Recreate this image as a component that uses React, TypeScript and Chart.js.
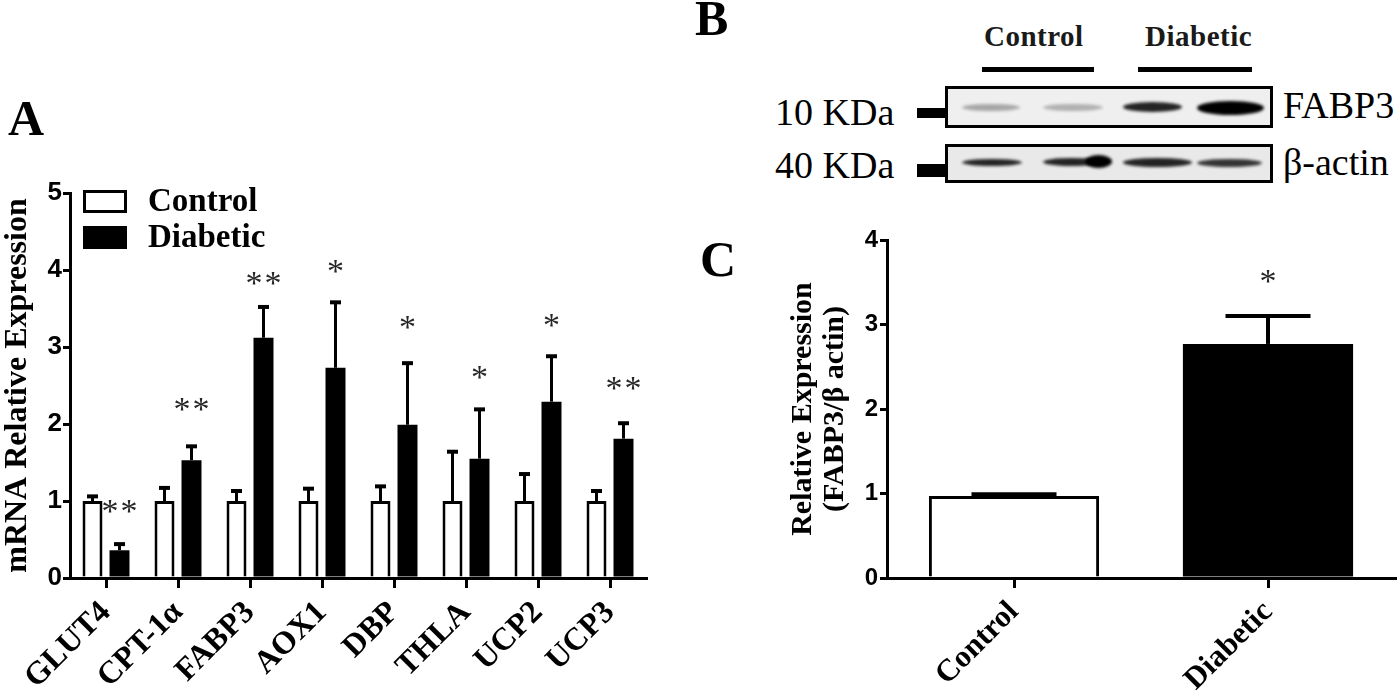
import React, { useEffect, useRef } from 'react';
import { Chart, registerables } from 'chart.js';

Chart.register(...registerables);

// ---------- Panel A data ----------
const genes = ['GLUT4', 'CPT-1α', 'FABP3', 'AOX1', 'DBP', 'THLA', 'UCP2', 'UCP3'];
const controlMean = [1, 1, 1, 1, 1, 1, 1, 1];
const controlErr = [0.06, 0.17, 0.13, 0.16, 0.19, 0.64, 0.35, 0.13];
const diabeticMean = [0.36, 1.53, 3.12, 2.73, 1.99, 1.55, 2.29, 1.81];
const diabeticErr = [0.08, 0.18, 0.4, 0.85, 0.8, 0.64, 0.59, 0.2];
const geneStars = ['**', '**', '**', '*', '*', '*', '*', '**'];
const geneStarLevel = [0.95, 2.27, 3.91, 4.06, 3.34, 2.69, 3.36, 2.55];
const yMaxA = 5;

// ---------- Panel C data ----------
const groupsC = ['Control', 'Diabetic'];
const proteinMean = [0.97, 2.77];
const proteinErr = [0.02, 0.33];
const proteinStars = ['', '*'];
const proteinStarLevel = [0, 3.58];
const yMaxC = 4;

// ---------- Panel B labels ----------
const blotGroups = ['Control', 'Diabetic'];
const blotRows = ['FABP3', 'β-actin'];
const blotMarkers = ['10 KDa', '40 KDa'];

const SERIF = '"Liberation Serif", "Times New Roman", serif';
const SANS = '"Liberation Sans", Arial, sans-serif';

const errorBarPlugin = {
  id: 'errorBars',
  afterDatasetsDraw(chart: any, _args: any, opts: any) {
    if (!opts || !opts.errors) return;
    const ctx = chart.ctx;
    const y = chart.scales.y;
    ctx.save();
    ctx.strokeStyle = '#000';
    ctx.lineCap = 'butt';
    chart.data.datasets.forEach((ds: any, d: number) => {
      const meta = chart.getDatasetMeta(d);
      const errs = opts.errors[d];
      meta.data.forEach((bar: any, i: number) => {
        const v = ds.data[i];
        const e = errs[i];
        const yb = y.getPixelForValue(v);
        const yt = y.getPixelForValue(v + e);
        ctx.lineWidth = opts.lineWidth || 3;
        ctx.beginPath();
        ctx.moveTo(bar.x, yb);
        ctx.lineTo(bar.x, yt);
        ctx.stroke();
        ctx.lineWidth = opts.capThickness || 3;
        ctx.beginPath();
        ctx.moveTo(bar.x - opts.capWidth / 2, yt);
        ctx.lineTo(bar.x + opts.capWidth / 2, yt);
        ctx.stroke();
      });
    });
    ctx.restore();
  },
};

const starPlugin = {
  id: 'stars',
  afterDatasetsDraw(chart: any, _args: any, opts: any) {
    if (!opts || !opts.marks) return;
    const ctx = chart.ctx;
    const y = chart.scales.y;
    const meta = chart.getDatasetMeta(opts.datasetIndex || 0);
    ctx.save();
    ctx.fillStyle = opts.color || '#333';
    ctx.font = opts.font;
    ctx.textAlign = 'center';
    ctx.textBaseline = 'alphabetic';
    meta.data.forEach((bar: any, i: number) => {
      const m: string = opts.marks[i];
      if (!m) return;
      const cy = y.getPixelForValue(opts.levels[i]) + opts.baselineShift;
      const n = m.length;
      for (let k = 0; k < n; k++) {
        const dx = (k - (n - 1) / 2) * opts.spacing;
        ctx.fillText('*', bar.x + dx, cy);
      }
    });
    ctx.restore();
  },
};

const legendPlugin = {
  id: 'boxLegend',
  afterDraw(chart: any, _args: any, opts: any) {
    if (!opts || !opts.display) return;
    const ctx = chart.ctx;
    const area = chart.chartArea;
    ctx.save();
    chart.data.datasets.forEach((ds: any, d: number) => {
      const bx = area.left + opts.dx;
      const by = area.top + opts.dy + d * opts.rowGap;
      ctx.fillStyle = ds.backgroundColor;
      ctx.fillRect(bx, by, opts.boxW, opts.boxH);
      ctx.strokeStyle = '#000';
      ctx.lineWidth = 3;
      ctx.strokeRect(bx + 1.5, by + 1.5, opts.boxW - 3, opts.boxH - 3);
      ctx.fillStyle = '#000';
      ctx.font = opts.font;
      ctx.textAlign = 'left';
      ctx.textBaseline = 'middle';
      ctx.fillText(ds.label, bx + opts.boxW + 21, by + opts.boxH / 2 + 1);
    });
    ctx.restore();
  },
};

function axisCommon(extra: any) {
  return {
    grid: {
      display: true,
      drawOnChartArea: false,
      drawTicks: true,
      color: '#000',
      lineWidth: 3,
      ...extra.grid,
    },
    border: { display: true, color: '#000', width: 3 },
  };
}

function PanelA() {
  const ref = useRef<HTMLCanvasElement>(null);
  useEffect(() => {
    const chart = new Chart(ref.current as HTMLCanvasElement, {
      type: 'bar',
      data: {
        labels: genes,
        datasets: [
          {
            label: 'Control',
            data: controlMean,
            backgroundColor: '#fff',
            borderColor: '#000',
            borderWidth: 3,
            borderSkipped: 'start',
            categoryPercentage: 0.75,
            barPercentage: 0.74,
          },
          {
            label: 'Diabetic',
            data: diabeticMean,
            backgroundColor: '#000',
            borderColor: '#000',
            borderWidth: 0,
            categoryPercentage: 0.75,
            barPercentage: 0.74,
          },
        ],
      },
      options: {
        animation: false,
        responsive: false,
        maintainAspectRatio: false,
        events: [],
        layout: { padding: { top: 193, right: 14, bottom: 0, left: 0 } },
        plugins: {
          legend: { display: false },
          tooltip: { enabled: false },
          errorBars: { errors: [controlErr, diabeticErr], capWidth: 11, lineWidth: 3, capThickness: 4 },
          stars: {
            marks: geneStars,
            levels: geneStarLevel,
            datasetIndex: 1,
            font: `34px ${SERIF}`,
            spacing: 19,
            baselineShift: 17,
            color: '#262626',
          },
          boxLegend: {
            display: true,
            dx: 13,
            dy: -3,
            rowGap: 36,
            boxW: 44,
            boxH: 23,
            font: `bold 33px ${SERIF}`,
          },
        } as any,
        scales: {
          x: {
            ...axisCommon({ grid: { offset: false, tickLength: 10 } }),
            ticks: {
              color: '#000',
              font: { family: SERIF, size: 32, weight: 'bold' },
              minRotation: 45,
              maxRotation: 45,
              autoSkip: false,
              padding: 6,
            },
            afterFit: (s: any) => {
              s.height = 117;
              s.paddingLeft = 0;
              s.paddingRight = 0;
            },
          },
          y: {
            ...axisCommon({ grid: { tickLength: 7 } }),
            min: 0,
            max: yMaxA,
            ticks: {
              stepSize: 1,
              color: '#000',
              font: { family: SANS, size: 26, weight: 'bold' },
              padding: 1,
            },
            title: {
              display: true,
              text: 'mRNA Relative Expression',
              color: '#000',
              font: { family: SERIF, size: 32, weight: 'bold', lineHeight: 1.1 },
              padding: { top: 0, bottom: 0 },
            },
            afterFit: (s: any) => {
              s.width = 70;
              s.paddingTop = 0;
              s.paddingBottom = 0;
            },
          },
        } as any,
      },
      plugins: [errorBarPlugin, starPlugin, legendPlugin],
    });
    return () => chart.destroy();
  }, []);
  return (
    <canvas
      ref={ref}
      width={660}
      height={695}
      style={{ position: 'absolute', left: 0, top: 0, width: 660, height: 695 }}
    />
  );
}

function PanelC() {
  const ref = useRef<HTMLCanvasElement>(null);
  useEffect(() => {
    const chart = new Chart(ref.current as HTMLCanvasElement, {
      type: 'bar',
      data: {
        labels: groupsC,
        datasets: [
          {
            label: 'FABP3/β actin',
            data: proteinMean,
            backgroundColor: ['#fff', '#000'],
            borderColor: '#000',
            borderWidth: [3, 0],
            borderSkipped: 'start',
            categoryPercentage: 0.67,
            barPercentage: 1,
          },
        ],
      },
      options: {
        animation: false,
        responsive: false,
        maintainAspectRatio: false,
        events: [],
        layout: { padding: { top: 40, right: 5, bottom: 0, left: 0 } },
        plugins: {
          legend: { display: false },
          tooltip: { enabled: false },
          errorBars: { errors: [proteinErr], capWidth: 85, lineWidth: 4, capThickness: 4 },
          stars: {
            marks: proteinStars,
            levels: proteinStarLevel,
            datasetIndex: 0,
            font: `34px ${SERIF}`,
            spacing: 19,
            baselineShift: 17,
            color: '#262626',
          },
        } as any,
        scales: {
          x: {
            ...axisCommon({ grid: { offset: false, tickLength: 10 } }),
            ticks: {
              color: '#000',
              font: { family: SERIF, size: 31, weight: 'bold' },
              minRotation: 45,
              maxRotation: 45,
              autoSkip: false,
              padding: 6,
            },
            afterFit: (s: any) => {
              s.height = 117;
              s.paddingLeft = 0;
              s.paddingRight = 0;
            },
          },
          y: {
            ...axisCommon({ grid: { tickLength: 7 } }),
            min: 0,
            max: yMaxC,
            ticks: {
              stepSize: 1,
              color: '#000',
              font: { family: SANS, size: 24, weight: 'bold' },
              padding: 2,
            },
            title: {
              display: true,
              text: ['Relative Expression', '(FABP3/β actin)'],
              color: '#000',
              font: { family: SERIF, size: 30, weight: 'bold', lineHeight: 32 / 30 },
              padding: { top: 107, bottom: 0 },
            },
            afterFit: (s: any) => {
              s.width = 207;
              s.paddingTop = 0;
              s.paddingBottom = 0;
            },
          },
        } as any,
      },
      plugins: [errorBarPlugin, starPlugin],
    });
    return () => chart.destroy();
  }, []);
  return (
    <canvas
      ref={ref}
      width={720}
      height={495}
      style={{ position: 'absolute', left: 680, top: 200, width: 720, height: 495 }}
    />
  );
}

function Band(props: { x1: number; x2: number; y: number; h: number; a: number; blur?: number }) {
  const { x1, x2, y, h, a, blur } = props;
  return (
    <div
      style={{
        position: 'absolute',
        left: x1,
        top: y - h / 2,
        width: x2 - x1,
        height: h,
        borderRadius: '50%',
        background: `rgba(0,0,0,${a})`,
        filter: `blur(${blur ?? 1.5}px)`,
      }}
    />
  );
}

function PanelB() {
  const txt = (s: string, left: number, top: number, style: any = {}) => (
    <div
      style={{
        position: 'absolute',
        left,
        top,
        fontFamily: SERIF,
        fontSize: 38,
        lineHeight: '38px',
        whiteSpace: 'nowrap',
        color: '#000',
        ...style,
      }}
    >
      {s}
    </div>
  );
  const head = { fontSize: 29, lineHeight: '30px', fontWeight: 'bold', color: '#1a1a1a', letterSpacing: '0.5px' };
  return (
    <>
      {txt(blotGroups[0], 984, 21, head)}
      {txt(blotGroups[1], 1145, 21, head)}
      <div style={{ position: 'absolute', left: 982, top: 67, width: 112, height: 5, background: '#000' }} />
      <div style={{ position: 'absolute', left: 1138, top: 67, width: 114, height: 5, background: '#000' }} />
      {txt(blotMarkers[0], 775, 93)}
      {txt(blotMarkers[1], 775, 146)}
      <div style={{ position: 'absolute', left: 917, top: 108, width: 28, height: 10, background: '#000' }} />
      <div style={{ position: 'absolute', left: 917, top: 164, width: 28, height: 13, background: '#000' }} />
      <div
        style={{
          position: 'absolute',
          left: 945,
          top: 86,
          width: 328,
          height: 42,
          boxSizing: 'border-box',
          border: '3px solid #000',
          background: '#efefef',
        }}
      />
      <div
        style={{
          position: 'absolute',
          left: 945,
          top: 144,
          width: 328,
          height: 39,
          boxSizing: 'border-box',
          border: '3px solid #000',
          background: '#e9e9e9',
        }}
      />
      <Band x1={962} x2={1020} y={107} h={7} a={0.3} />
      <Band x1={1043} x2={1103} y={107} h={7} a={0.26} />
      <Band x1={1123} x2={1182} y={107} h={10} a={0.85} />
      <Band x1={1197} x2={1264} y={108} h={14} a={1} />
      <Band x1={962} x2={1022} y={162} h={7} a={0.85} />
      <Band x1={1043} x2={1100} y={162} h={8} a={0.85} />
      <Band x1={1085} x2={1112} y={161} h={13} a={1} />
      <Band x1={1123} x2={1192} y={162} h={9} a={0.85} />
      <Band x1={1197} x2={1262} y={163} h={8} a={0.78} />
      {txt(blotRows[0], 1283, 86)}
      {txt(blotRows[1], 1283, 143)}
    </>
  );
}

export default function App() {
  const letter = (s: string, left: number, top: number) => (
    <div
      style={{
        position: 'absolute',
        left,
        top,
        fontFamily: SERIF,
        fontWeight: 'bold',
        fontSize: 50,
        lineHeight: '50px',
        color: '#000',
      }}
    >
      {s}
    </div>
  );
  return (
    <div
      style={{
        position: 'fixed',
        left: 0,
        top: 0,
        width: 1400,
        height: 695,
        background: '#fff',
        overflow: 'hidden',
      }}
    >
      <PanelA />
      <PanelC />
      <PanelB />
      {letter('A', 8, 93)}
      {letter('B', 695, -7)}
      {letter('C', 700, 234)}
    </div>
  );
}
